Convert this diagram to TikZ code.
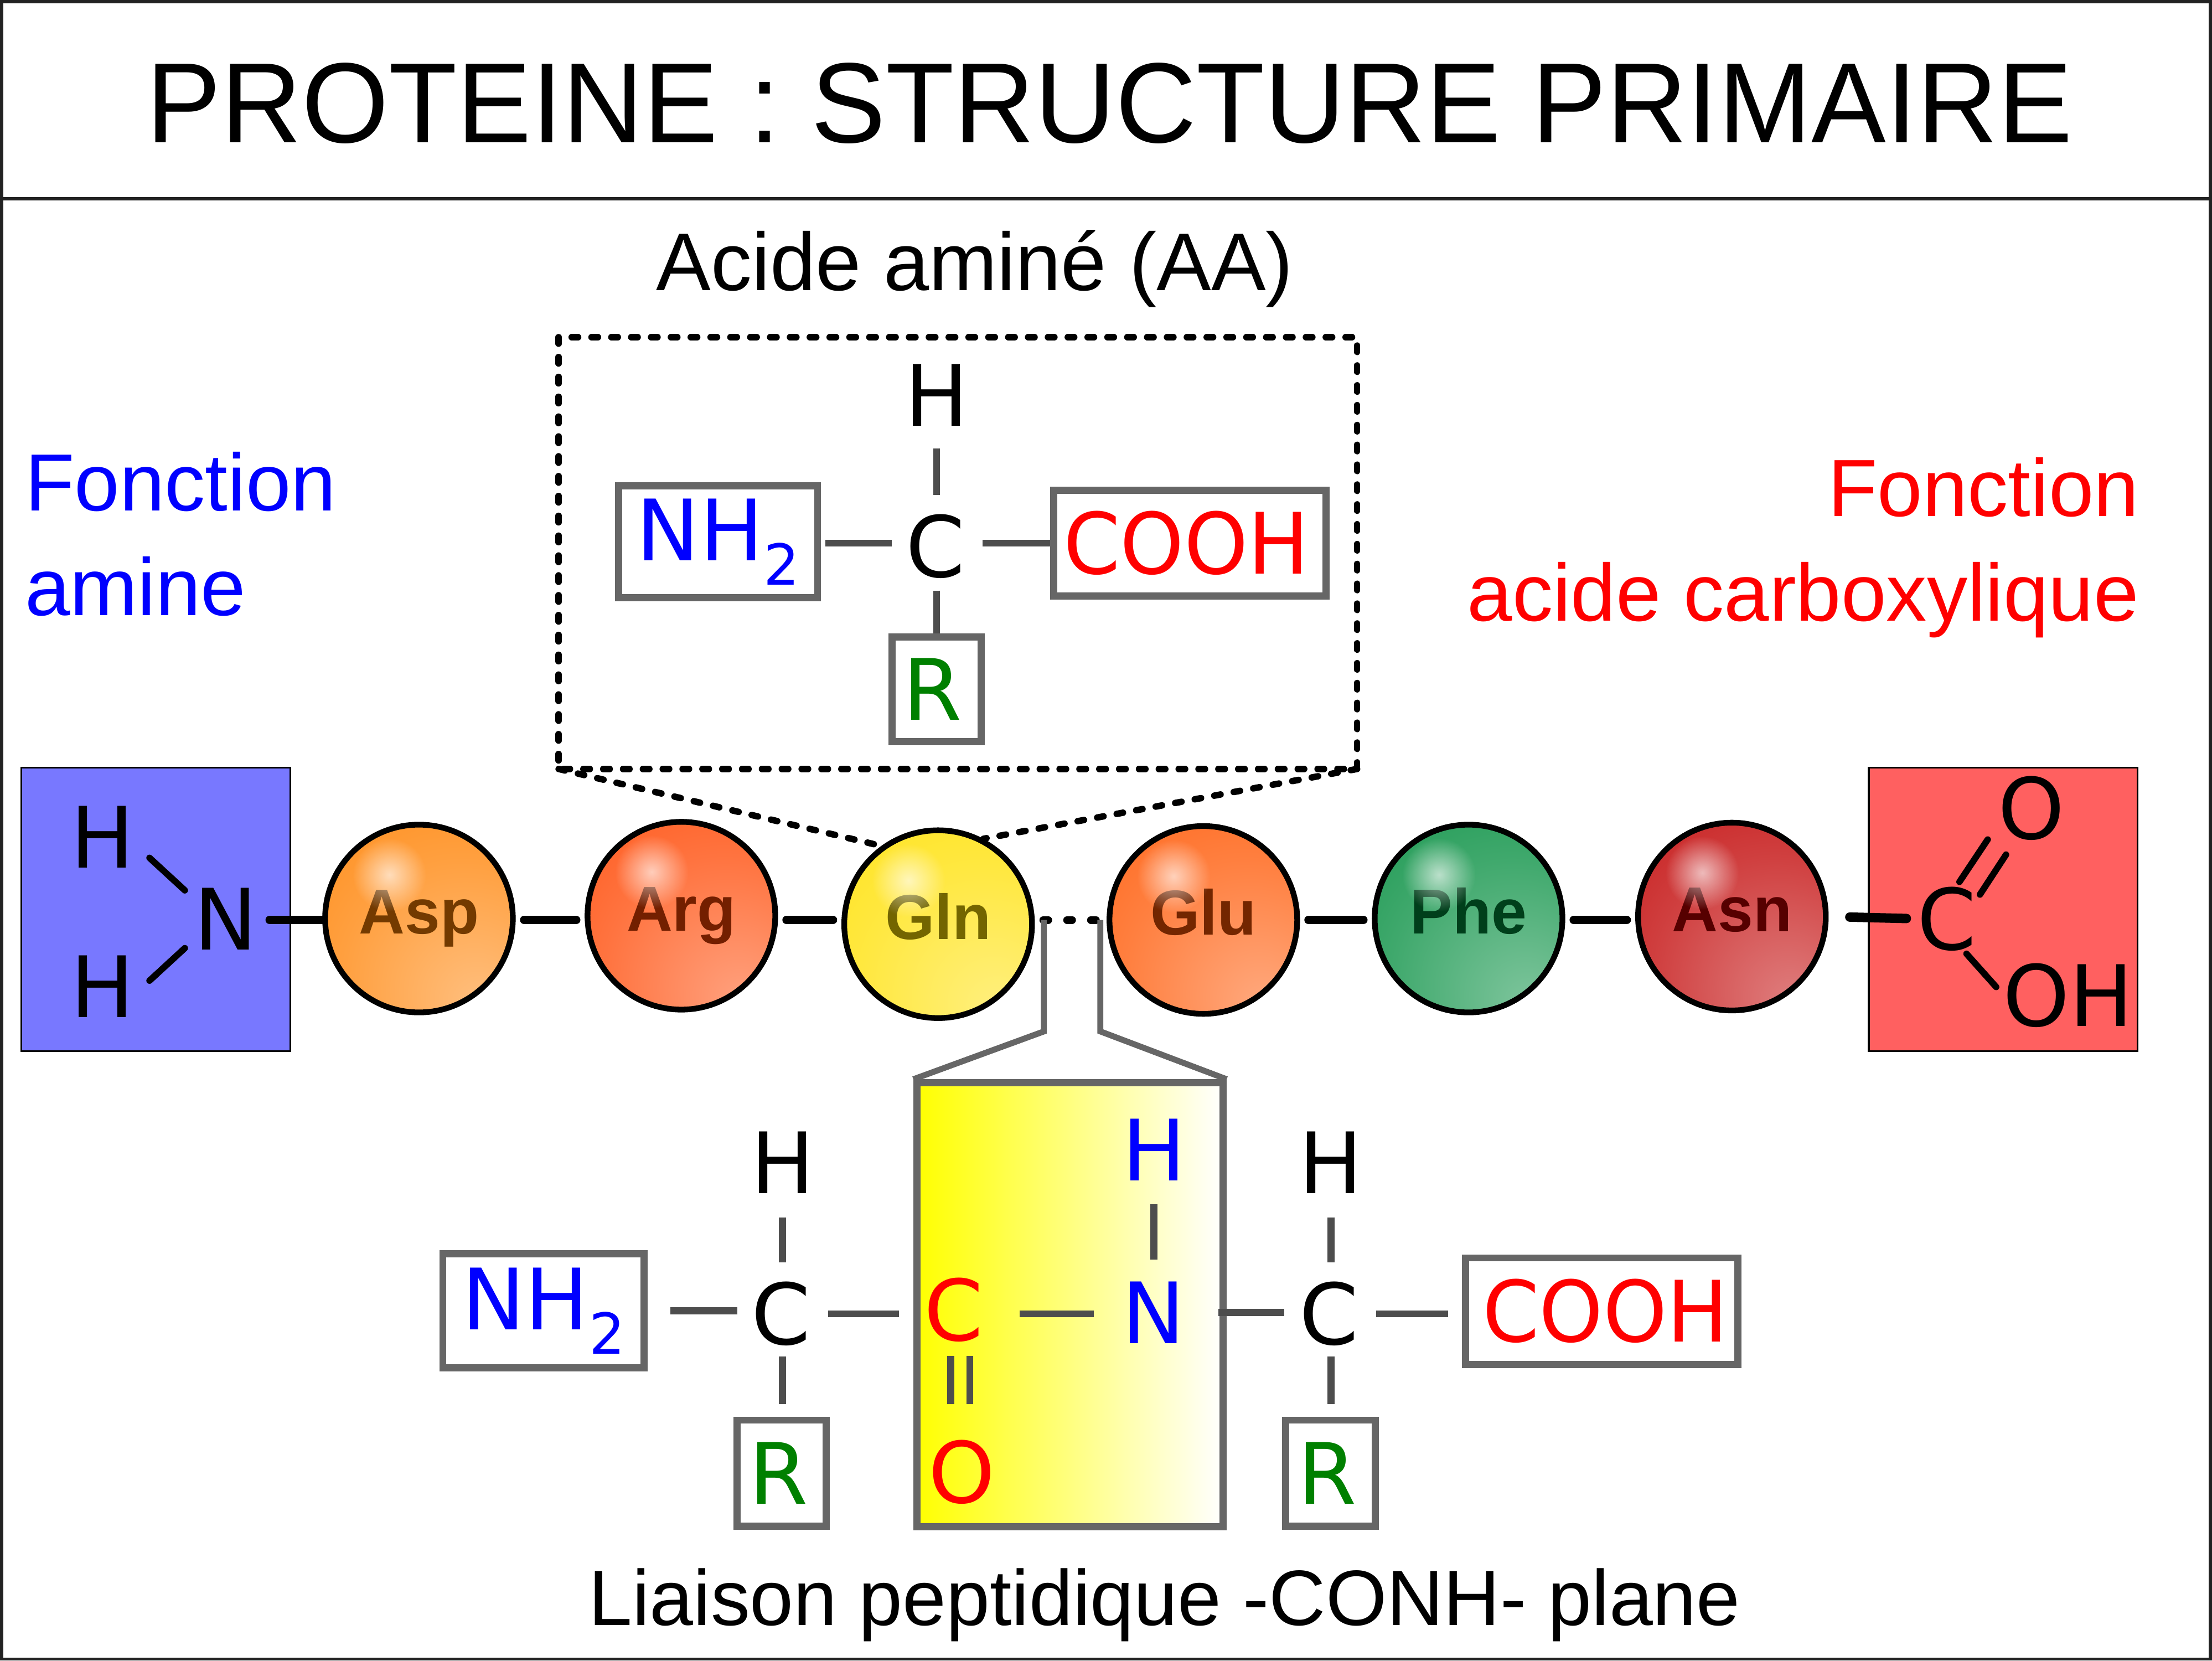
\documentclass[tikz,border=0pt]{standalone}
\usepackage{fontspec}
\setmainfont{Liberation Sans}
\newfontfamily\chemfont{DejaVu Sans}
\usetikzlibrary{fadings}

\definecolor{framecol}{HTML}{222222}
\definecolor{boxcol}{HTML}{666666}
\definecolor{bondcol}{HTML}{4D4D4D}
\definecolor{aminefill}{HTML}{7878FF}
\definecolor{acidfill}{HTML}{FF6060}
\definecolor{chemgreen}{HTML}{008000}
\definecolor{aspcol}{HTML}{FF8000}
\definecolor{argcol}{HTML}{FF4500}
\definecolor{glncol}{HTML}{FFE000}
\definecolor{glucol}{HTML}{FF5500}
\definecolor{phecol}{HTML}{008C3C}
\definecolor{asncol}{HTML}{C00000}

\pgfdeclareradialshading[ballbase]{aminoball}{\pgfpoint{17bp}{-24bp}}{%
  color(0bp)=(ballbase!50!white);
  color(32bp)=(ballbase!75!white);
  color(58bp)=(ballbase!92!white);
  color(72bp)=(ballbase);
  color(100bp)=(ballbase)}
\tikzfading[name=glossfade,inner color=transparent!35,outer color=transparent!100]
\newcommand{\subtwo}{\raisebox{-4.95pt}{\fontsize{11.4pt}{11.4pt}\selectfont 2}}
\newcommand{\cooh}{\scalebox{.96}[1]{COOH}}

\begin{document}
\begin{tikzpicture}[
  x=.01cm,y=-.01cm,
  atom/.style={font=\chemfont\fontsize{17.07pt}{17.07pt}\selectfont,inner sep=0pt,anchor=base},
  boxed/.style={draw=boxcol,line width=1.42pt,fill=white,inner sep=0pt,font=\chemfont\fontsize{17.07pt}{17.07pt}\selectfont},
  bond/.style={draw=bondcol,line width=1.4pt},
  thinbond/.style={line width=1.3pt,line cap=round},
  chainbond/.style={line width=1.7pt,line cap=round,shorten <=.06cm,shorten >=.06cm},
  zoomline/.style={line width=1.3pt,line cap=round,dash pattern=on 1.3pt off 2.7pt},
  funnel/.style={draw=boxcol,line width=1.2pt},
  ball/.style={circle,draw=black,line width=1.15pt,minimum size=1.33cm,inner sep=0pt,shade,shading=aminoball,
    font=\bfseries\fontsize{12.8pt}{12.8pt}\selectfont,text=ballbase!45!black,text height=.82em,text depth=.21em},
  endbox/.style={draw=black,line width=.35pt,inner sep=0pt,minimum width=1.905cm,minimum height=2.01cm}
]
  \useasboundingbox (0,0) rectangle (1568,1177);

  % Frame and texts
  \draw[framecol,line width=.65pt] (1.2,1.2) rectangle (1566.8,1175.8);
  \coordinate (ruleleft) at (0,141);
  \coordinate (ruleright) at (1568,141);
  \draw[framecol,line width=.65pt] (ruleleft) -- (ruleright);
  \node[anchor=base,inner sep=0pt,font=\fontsize{23pt}{23pt}\selectfont] (title) at (786.5,101) {\scalebox{.98}[1]{PROTEINE : STRUCTURE PRIMAIRE}};
  \node[anchor=base,inner sep=0pt,font=\fontsize{16.5pt}{16.5pt}\selectfont] (aatitle) at (691,206) {Acide aminé (AA)};
  \node[anchor=base west,inner sep=0pt,text=blue,font=\fontsize{16.35pt}{16.35pt}\selectfont] (aminetxt) at (17,362) {Fonction};
  \node[anchor=base west,inner sep=0pt,text=blue,font=\fontsize{16.35pt}{16.35pt}\selectfont] (aminetxtb) at (17,436) {amine};
  \node[anchor=base east,inner sep=0pt,text=red,font=\fontsize{16.35pt}{16.35pt}\selectfont] (acidtxt) at (1517,366) {Fonction};
  \node[anchor=base east,inner sep=0pt,text=red,font=\fontsize{16.35pt}{16.35pt}\selectfont] (acidtxtb) at (1517,440) {acide carboxylique};
  \node[anchor=base,inner sep=0pt,font=\fontsize{15.82pt}{15.82pt}\selectfont] (pepttxt) at (825.5,1152) {Liaison peptidique -CONH- plane};

  % Amino acid in the dashed box
  \draw[zoomline] (396,239) rectangle (962,545);
  \coordinate (zoomleft) at (396,545);
  \coordinate (zoomright) at (962,545);
  \node[atom] (ha) at (664,302) {H};
  \node[atom] (ca) at (663,409) {C};
  \node[boxed,minimum width=1.41cm,minimum height=.79cm,text=blue] (nha) at (509,384) {NH\subtwo};
  \node[boxed,minimum width=1.93cm,minimum height=.75cm,text=red] (cooha) at (843.5,385) {\cooh\hspace*{.05cm}};
  \node[boxed,minimum width=.63cm,minimum height=.74cm,text=chemgreen] (ra) at (664,488.5) {R\hspace*{.06cm}};
  \draw[bond,shorten <=.15cm,shorten >=.13cm] (ha.south) -- (ha.south |- ca.north);
  \draw[bond,shorten <=.08cm] (ca.south -| ha) -- (ra.north);
  \draw[bond,shorten <=.09cm,shorten >=.03cm] (ca.west |- cooha) -- (nha.east |- cooha);
  \draw[bond,shorten <=.12cm] (ca.east |- cooha) -- (cooha.west);

  % Chain
  \coordinate (chainline) at (0,652);
  \node[endbox,fill=aminefill] (aminebox) at (110.5,644.5) {};
  \node[endbox,fill=acidfill] (acidbox) at (1420,644.5) {};
  \foreach \aa/\txt/\x/\y/\col in {asp/Asp/297/651/aspcol,arg/Arg/483/649/argcol,gln/Gln/665/655/glncol,
      glu/Glu/853/652/glucol,phe/Phe/1041/651/phecol,asn/Asn/1227.7/649.6/asncol}
  {
    \colorlet{ballbase}{\col}
    \node[ball] (\aa) at (\x,\y) {\txt};
    \fill[white,path fading=glossfade] (\x-21,\y-31) circle (.26cm);
  }
  \foreach \a/\b in {asp/arg,arg/gln,glu/phe,phe/asn}
    \draw[chainbond] (\a.east |- chainline) -- (\b.west |- chainline);
  \draw[chainbond,line width=1.56pt,dash pattern=on 1pt off 3.8pt] (gln.east |- chainline) -- (glu.west |- chainline);
  \draw[zoomline] (zoomleft) -- (gln.126);
  \draw[zoomline] (zoomright) -- (gln.62);

  % Amine end
  \node[atom] (hup) at (72.5,615) {H};
  \node[atom] (hdown) at (72.5,721) {H};
  \node[atom] (nend) at (160,673) {N};
  \coordinate (nupa) at (106,608);
  \coordinate (nupb) at (131,631);
  \coordinate (ndowna) at (131,672);
  \coordinate (ndownb) at (106,695);
  \draw[thinbond] (nupa) -- (nupb);
  \draw[thinbond] (ndowna) -- (ndownb);
  \draw[line width=1.7pt,line cap=round,shorten <=.08cm] (nend.east |- chainline) -- (asp.west |- chainline);

  % Acid end
  \node[atom] (cend) at (1380,673) {C};
  \node[atom] (oup) at (1440,594.5) {O};
  \node[atom] (ohend) at (1466,727.5) {OH};
  \coordinate (oupa) at (1409,595);
  \coordinate (oupb) at (1389,625);
  \coordinate (oupc) at (1422,605.7);
  \coordinate (oupd) at (1403.5,634);
  \coordinate (ohfrom) at (1394,676);
  \coordinate (ohto) at (1415,699.5);
  \draw[thinbond] (oupa) -- (oupb);
  \draw[thinbond] (oupc) -- (oupd);
  \draw[thinbond] (ohfrom) -- (ohto);
  \draw[line width=1.9pt,line cap=round,shorten <=.15cm,shorten >=.07cm] (asn.east) -- (cend.west);

  % Peptide bond
  \node[draw=boxcol,line width=1.42pt,inner sep=0pt,outer sep=.71pt,left color=yellow,right color=white,
    minimum width=2.17cm,minimum height=3.145cm] (peptide) at (758.5,924.75) {};
  \coordinate (gateleft) at (740,652);
  \coordinate (gateright) at (780,652);
  \coordinate (kneeleft) at (740,731);
  \coordinate (kneeright) at (780,731);
  \draw[funnel] (gateleft) -- (kneeleft) -- (peptide.north west);
  \draw[funnel] (gateright) -- (kneeright) -- (peptide.north east);

  % Dipeptide
  \node[boxed,minimum width=1.425cm,minimum height=.81cm,text=blue] (nhb) at (385.25,929) {NH\subtwo};
  \node[atom] (hb) at (554.7,846) {H};
  \node[atom] (cb) at (553.5,953) {C};
  \node[boxed,minimum width=.63cm,minimum height=.75cm,text=chemgreen] (rb) at (554,1044) {R\hspace*{.04cm}};
  \node[atom,text=red] (cc) at (676,950) {C};
  \node[atom,text=red] (oc) at (681.8,1065) {O};
  \node[atom,text=blue] (hn) at (818,836.6) {H};
  \node[atom,text=blue] (nc) at (817.5,952) {N};
  \node[atom] (hd) at (943.5,846) {H};
  \node[atom] (cd) at (942,953) {C};
  \node[boxed,minimum width=.635cm,minimum height=.75cm,text=chemgreen] (rd) at (943.2,1044) {R\hspace*{.05cm}};
  \node[boxed,minimum width=1.93cm,minimum height=.755cm,text=red] (coohd) at (1135.5,929.25) {\hspace*{.05cm}\cooh};

  \draw[bond,shorten <=.16cm,shorten >=.13cm] (hb.south) -- (hb.south |- cb.north);
  \draw[bond,shorten <=.07cm,shorten >=.09cm] (cb.south -| hb) -- (hb |- rb.north);
  \draw[bond,shorten <=.09cm,shorten >=.16cm] (cb.west |- nhb) -- (nhb.east);
  \draw[bond,shorten <=.12cm,shorten >=.17cm] (cb.east) -- (cc.west |- cb.east);
  \draw[bond,shorten <=.25cm,shorten >=.19cm] (cc.east |- cb.east) -- (nc.west |- cb.east);
  \draw[bond,shorten <=.16cm,shorten >=.15cm] (hn.south) -- (hn.south |- nc.north);
  \draw[bond,shorten <=.23cm,shorten >=.1cm] (nc.east) -- (nc.east -| cd.west);
  \draw[bond,shorten <=.16cm,shorten >=.13cm] (hd.south) -- (hd.south |- cd.north);
  \draw[bond,shorten <=.07cm,shorten >=.09cm] (cd.south -| hd) -- (hd |- rd.north);
  \draw[bond,shorten <=.12cm,shorten >=.1cm] (cd.east) -- (cd.east -| coohd.west);
  % Double bond C=O
  \coordinate (dbla) at (674,961);
  \coordinate (dblb) at (674,995);
  \coordinate (dblc) at (687.5,961);
  \coordinate (dbld) at (687.5,995);
  \draw[bond] (dbla) -- (dblb);
  \draw[bond] (dblc) -- (dbld);
\end{tikzpicture}
\end{document}
